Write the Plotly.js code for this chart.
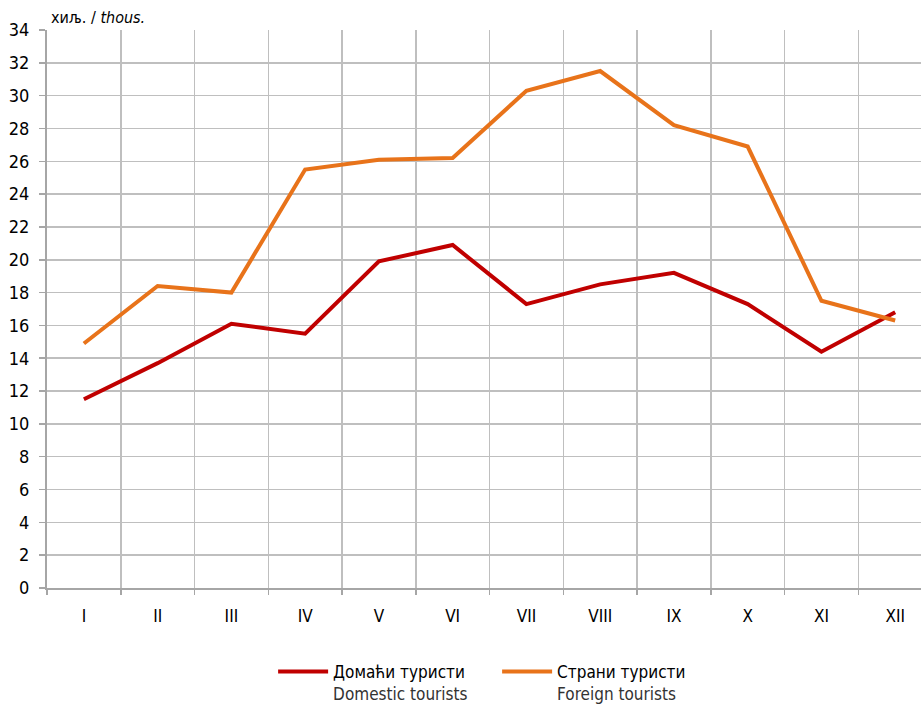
<!DOCTYPE html>
<html>
<head>
<meta charset="utf-8">
<script src="https://cdn.plot.ly/plotly-3.0.1.min.js"></script>
<style>html,body{margin:0;padding:0;background:#fff;overflow:hidden}</style>
</head>
<body>
<div id="chart" style="width:921px;height:707px"></div>
<script>
const months = ['I','II','III','IV','V','VI','VII','VIII','IX','X','XI','XII'];
const domestic = [11.5, 13.7, 16.1, 15.5, 19.9, 20.9, 17.3, 18.5, 19.2, 17.3, 14.4, 16.8];
const foreign = [14.9, 18.4, 18.0, 25.5, 26.1, 26.2, 30.3, 31.5, 28.2, 26.9, 17.5, 16.3];
const domesticName = 'Домаћи туристи<br><span style="color:#333">Domestic tourists</span>';
const foreignName = 'Страни туристи<br><span style="color:#333">Foreign tourists</span>';
const yTicks = [0,2,4,6,8,10,12,14,16,18,20,22,24,26,28,30,32,34];

const FONT = '"Liberation Sans Narrow", "DejaVu Sans Condensed", Arial, sans-serif';
const idx = months.map((m,i)=>i);

const traces = [
  {x: idx, y: domestic, type:'scatter', mode:'lines', name: domesticName,
   line:{color:'#c00000', width:4}},
  {x: idx, y: foreign, type:'scatter', mode:'lines', name: foreignName,
   line:{color:'#e8731a', width:4}}
];

const layout = {
  width: 921, height: 707,
  margin: {l:47, r:0, t:30, b:119},
  paper_bgcolor:'#fff', plot_bgcolor:'#fff',
  font:{family: FONT, size:17, color:'#000'},
  showlegend: true,
  legend: {orientation:'h', xref:'paper', x:0.515, xanchor:'center',
           yref:'container', y:0.075, yanchor:'top',
           valign:'top', font:{family:FONT, size:17, color:'#000'},
           itemwidth: 50, entrywidth: 159, entrywidthmode:'pixels', tracegroupgap: 0},
  xaxis: {
    range:[-0.5, 11.35], tickvals: idx, ticktext: months,
    showgrid:false, ticks:'', zeroline:false,
    showline:true, linecolor:'#a6a6a6', linewidth:2,
    ticklabelstandoff: 12,
    tickfont:{family:FONT, size:17, color:'#000'},
    minor:{tick0:-0.5, dtick:1, showgrid:true, gridcolor:'#bfbfbf', gridwidth:1.5,
           ticks:'outside', ticklen:5, tickcolor:'#a6a6a6', tickwidth:1.5},
    fixedrange:true
  },
  yaxis: {
    range:[0,34], tickvals: yTicks, ticktext: yTicks.map(String),
    showgrid:true, gridcolor:'#bfbfbf', gridwidth:1.5,
    zeroline:false, showline:true, linecolor:'#a6a6a6', linewidth:2,
    ticks:'outside', ticklen:6, tickcolor:'#a6a6a6', tickwidth:1.5,
    ticklabelstandoff: 6,
    tickfont:{family:FONT, size:18, color:'#000'},
    fixedrange:true
  },
  annotations: [{
    xref:'paper', yref:'paper', x:0, y:1, xanchor:'left', yanchor:'bottom',
    xshift: 2, yshift: 1,
    text:'хиљ. / <i>thous.</i>', showarrow:false,
    font:{family:FONT, size:16, color:'#000'}
  }]
};

Plotly.newPlot('chart', traces, layout, {displayModeBar:false, staticPlot:true});
</script>
</body>
</html>
